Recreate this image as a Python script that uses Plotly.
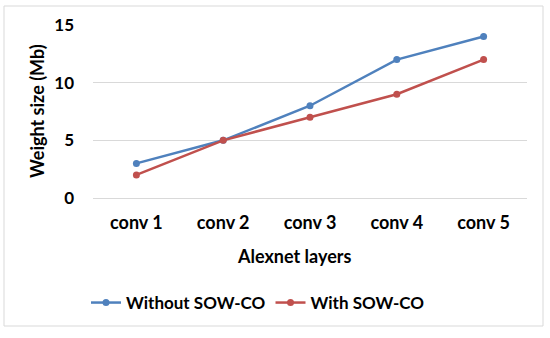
import plotly.graph_objects as go

layers = ["conv 1", "conv 2", "conv 3", "conv 4", "conv 5"]
without_sow = [3, 5, 8, 12, 14]
with_sow = [2, 5, 7, 9, 12]
y_ticks = [0, 5, 10, 15]

BLUE = "#4F81BD"
RED = "#C0504D"
FONT = "Lato"

# plot area in pixels (550x338 canvas)
L, R, T, B = 93, 23, 25, 140
PW = 550 - L - R
PH = 338 - T - B


def px_x(x):
    return (x - L) / PW


def px_y(y):
    return (338 - B - y) / PH


fig = go.Figure()
for name, vals, col in [("Without SOW-CO", without_sow, BLUE),
                        ("With SOW-CO", with_sow, RED)]:
    fig.add_trace(go.Scatter(
        x=layers, y=vals, name=name, mode="lines+markers",
        line=dict(color=col, width=2.5),
        marker=dict(color=col, size=7),
    ))

bold = dict(family=FONT, size=18, color="black", weight="bold")

fig.update_layout(
    width=550, height=338,
    margin=dict(l=L, r=R, t=T, b=B),
    paper_bgcolor="white", plot_bgcolor="white",
    font=dict(family=FONT, size=18, color="black"),
    showlegend=True,
    legend=dict(orientation="h", x=px_x(258), y=px_y(303),
                xanchor="center", yanchor="middle",
                font=dict(family=FONT, size=17, color="black", weight="bold"),
                itemwidth=30, traceorder="normal"),
    xaxis=dict(showgrid=False, showline=False, zeroline=False,
               range=[-0.5, 4.5], ticks="", ticklabelstandoff=12,
               tickfont=bold),
    yaxis=dict(range=[0, 15], tickvals=y_ticks, showgrid=True,
               gridcolor="#D9D9D9", gridwidth=1, zeroline=True,
               zerolinecolor="#D9D9D9", zerolinewidth=1, showline=False,
               ticks="", ticklabelstandoff=18,
               tickfont=dict(family=FONT, size=17, color="black", weight="bold")),
    annotations=[
        dict(text="<b>Alexnet layers</b>", xref="paper", yref="paper",
             x=px_x(294), y=px_y(256), showarrow=False,
             xanchor="center", yanchor="middle",
             font=dict(family=FONT, size=18, color="black")),
        dict(text="<b>Weight size (Mb)</b>", xref="paper", yref="paper",
             x=px_x(37), y=px_y(111), showarrow=False, textangle=-90,
             xanchor="center", yanchor="middle",
             font=dict(family=FONT, size=18, color="black")),
    ],
    shapes=[dict(type="rect", xref="paper", yref="paper",
                 x0=px_x(4), x1=px_x(543), y0=px_y(326), y1=px_y(6),
                 line=dict(color="#D9D9D9", width=1), layer="below")],
)

fig.write_html("out.html", config={"displayModeBar": False},
               post_script="document.body.style.margin='0';")
